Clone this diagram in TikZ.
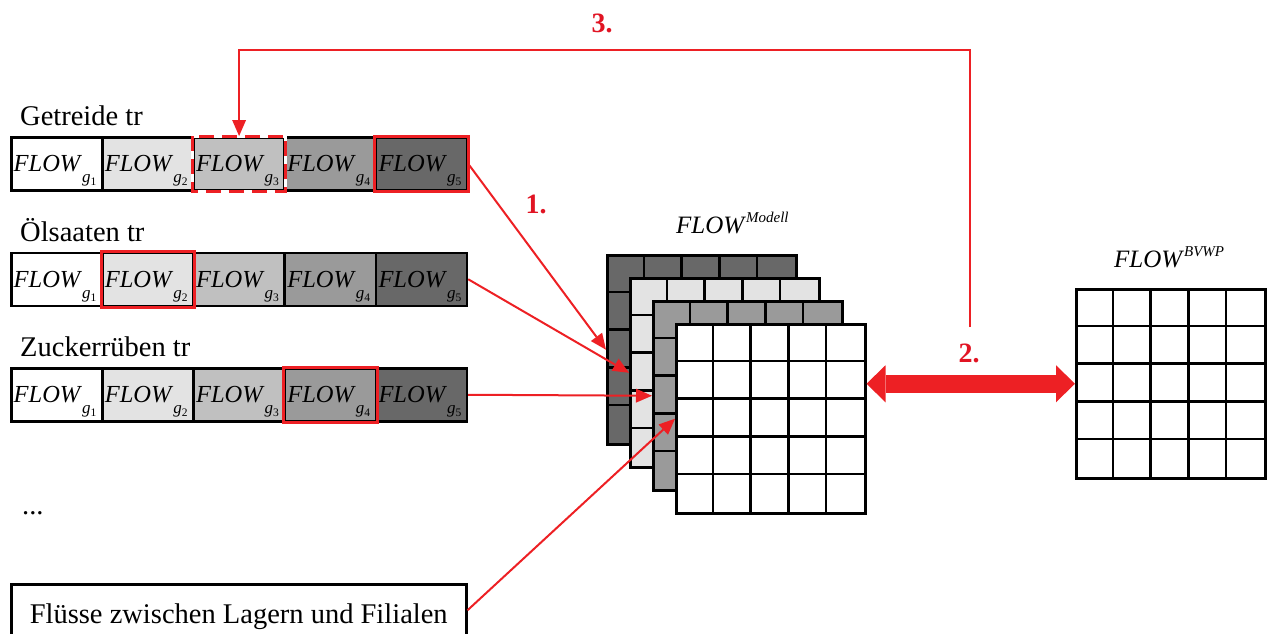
\documentclass[tikz,border=0pt]{standalone}
\usepackage{fontspec}
\setmainfont{Liberation Serif}
\usetikzlibrary{arrows.meta}
\definecolor{cA}{HTML}{FFFFFF}
\definecolor{cB}{HTML}{E3E3E3}
\definecolor{cC}{HTML}{C0C0C0}
\definecolor{cD}{HTML}{9A9A9A}
\definecolor{cE}{HTML}{686868}
\definecolor{hl}{RGB}{237,32,36}
\definecolor{lbl}{RGB}{225,20,35}
\newcommand{\flowsub}[1]{\textit{FLOW}\smash{\raisebox{-11pt}{\fontsize{17}{17}\selectfont\textit{g}\raisebox{-3pt}{\fontsize{11.5}{11.5}\selectfont #1}}}}
\newcommand{\flowsup}[1]{\textit{FLOW}\raisebox{11pt}{\fontsize{15}{15}\selectfont\textit{#1}}}
\begin{document}
\begin{tikzpicture}[x=1pt,y=-1pt,font=\fontsize{28.5}{34}\selectfont,
  cell/.style={draw=black, line width=2.5pt, minimum width=90.9pt, minimum height=53pt, inner sep=0pt, anchor=north west, font=\fontsize{24.5}{28}\selectfont},
  redbox/.style={draw=hl, line width=3pt},
  dashbox/.style={draw=hl, line width=3pt, dash pattern=on 15pt off 8pt, preaction={draw=white, solid, line width=3pt}},
  layer/.style={draw=black, line width=2.5pt, minimum width=189pt, minimum height=189pt, inner sep=0pt, anchor=north west},
  gridline/.style={draw=black, line width=2.5pt},
  arr/.style={draw=hl, line width=2pt, -{Triangle[length=16pt,width=14pt,line width=0pt]}},
  dbl/.style={draw=hl, line width=18pt, {Triangle[length=19pt,width=37pt,line width=0pt]}-{Triangle[length=19pt,width=37pt,line width=0pt]}},
  num/.style={text=lbl, font=\fontsize{28}{30}\selectfont\bfseries, anchor=base, inner sep=0pt},
  lab/.style={anchor=base west, inner sep=0pt}
]
\useasboundingbox (0,0) rectangle (1267,633);

% row labels
\node[lab] (lab1) at (20,125) {Getreide tr};
\node[lab] (lab2) at (20,241) {Ölsaaten tr};
\node[lab] (lab3) at (20,356) {Zuckerrüben tr};
\node[lab] (dots) at (22,514) {...};

% rows of cells
\foreach \r/\y in {1/136, 2/251.5, 3/367} {
  \foreach \i/\c in {1/cA,2/cB,3/cC,4/cD,5/cE} {
    \node[cell, fill=\c] (r\r-\i) at ({10+91.2*(\i-1)},\y) {\makebox[86pt][l]{\flowsub{\i}}};
  }
}
% highlights
\draw[dashbox] (r1-3.north west) rectangle (r1-3.south east);
\draw[redbox] (r1-5.north west) rectangle (r1-5.south east);
\draw[redbox] (r2-2.north west) rectangle (r2-2.south east);
\draw[redbox] (r3-4.north west) rectangle (r3-4.south east);

% bottom box
\node[draw, line width=2.5pt, minimum width=455pt, minimum height=52pt, anchor=north west, inner sep=0pt, text height=26pt, text depth=0pt] (fl) at (10,583) {Flüsse zwischen Lagern und Filialen};

% model layers
\foreach \k/\c in {1/cE,2/cB,3/cD,4/cA} {
  \node[layer, fill=\c] (L\k) at ({606+23*(\k-1)},{254+23*(\k-1)}) {};
  \foreach \j in {1,...,4} {
    \draw[gridline] ([xshift=\j*37.8pt]L\k.north west) -- ([xshift=\j*37.8pt]L\k.south west);
    \draw[gridline] ([yshift=-\j*37.8pt]L\k.north west) -- ([yshift=-\j*37.8pt]L\k.north east);
  }
}
\node[lab, font=\fontsize{25}{28}\selectfont] (mlab) at (676,233) {\flowsup{Modell}};

% BVWP grid
\node[layer, fill=white] (B) at (1075,288) {};
\foreach \j in {1,...,4} {
  \draw[gridline] ([xshift=\j*37.8pt]B.north west) -- ([xshift=\j*37.8pt]B.south west);
  \draw[gridline] ([yshift=-\j*37.8pt]B.north west) -- ([yshift=-\j*37.8pt]B.north east);
}
\node[lab, font=\fontsize{25}{28}\selectfont] (blab) at (1114,267) {\flowsup{BVWP}};

% connectors
\draw[arr] (r1-5.east) -- (L1.west);
\draw[arr] (r2-5.east) -- (L2.west);
\draw[arr] (r3-5.east) -- (L3.west);
\draw[arr] (fl.east) -- (L4.west);
\draw[dbl] (L4.east |- B.west) -- (B.west);
\coordinate (s3) at (970,327);
\coordinate (t3) at (970,50);
\draw[arr] (s3) -- (t3) -| (r1-3.north);

% step numbers
\node[num] (n1) at (536,213) {1.};
\node[num] (n2) at (969,362) {2.};
\node[num] (n3) at (602,32) {3.};
\end{tikzpicture}
\end{document}
